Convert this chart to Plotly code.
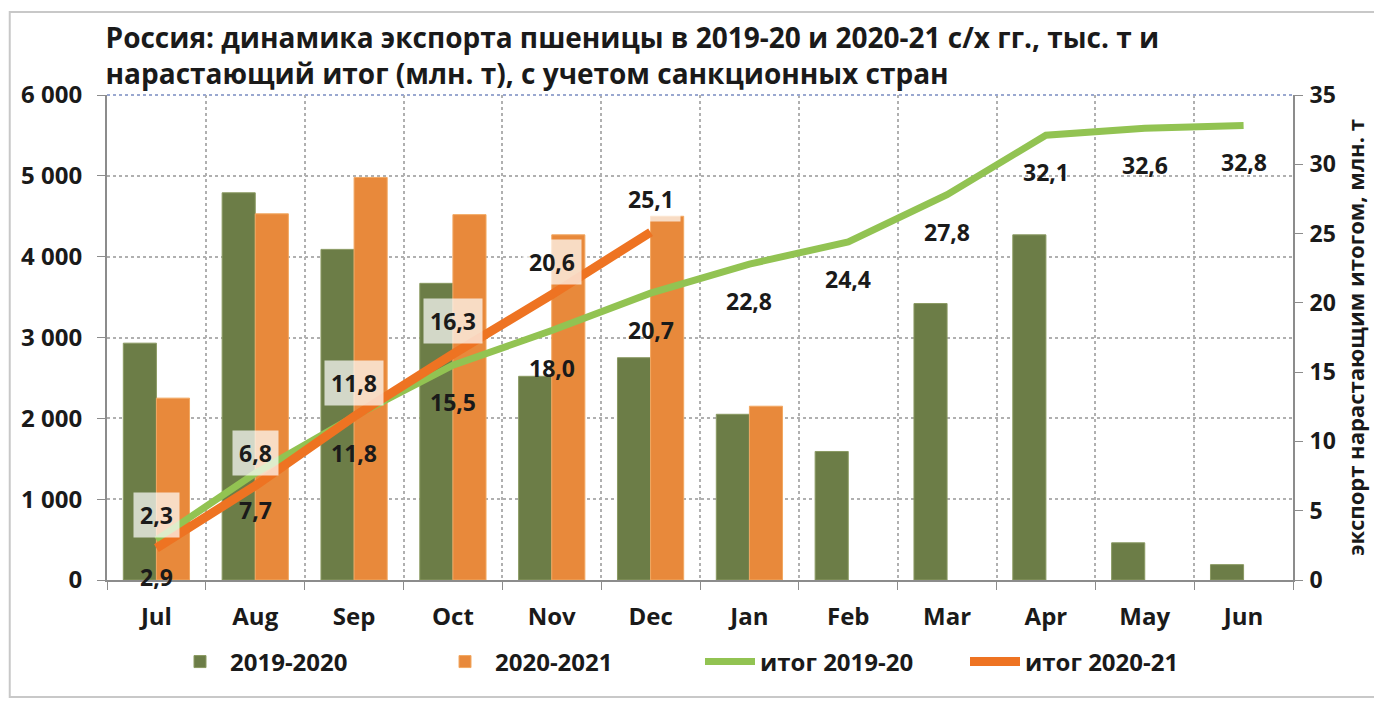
import plotly.graph_objects as go

# Months of the agricultural year
months = ["Jul", "Aug", "Sep", "Oct", "Nov", "Dec", "Jan", "Feb", "Mar", "Apr", "May", "Jun"]

# Monthly exports, thousand t
exp_2019_20 = [2930, 4790, 4090, 3670, 2520, 2750, 2050, 1590, 3420, 4270, 460, 190]
exp_2020_21 = [2250, 4530, 4980, 4520, 4270, 4500, 2150]

# Cumulative totals, million t
cum_2019_20 = [2.9, 7.7, 11.8, 15.5, 18.0, 20.7, 22.8, 24.4, 27.8, 32.1, 32.6, 32.8]
cum_2020_21 = [2.3, 6.8, 11.8, 16.3, 20.6, 25.1]

GREEN_BAR = "#6C7D47"
ORANGE_BAR = "#E8893B"
GREEN_LINE = "#92C352"
ORANGE_LINE = "#EE7322"
FONT = "Open Sans"
AXIS_GREY = "#8c8c8c"

fig = go.Figure()

fig.add_trace(go.Bar(x=months, y=exp_2019_20, name="2019-2020",
                     marker=dict(color=GREEN_BAR, line=dict(color="#8A9A62", width=1))))
fig.add_trace(go.Bar(x=months[:len(exp_2020_21)], y=exp_2020_21, name="2020-2021",
                     marker=dict(color=ORANGE_BAR, line=dict(color="#F2A862", width=1))))
fig.add_trace(go.Scatter(x=months, y=cum_2019_20, name="итог 2019-20", yaxis="y2",
                         mode="lines", line=dict(color=GREEN_LINE, width=7)))
fig.add_trace(go.Scatter(x=months[:len(cum_2020_21)], y=cum_2020_21, name="итог 2020-21", yaxis="y2",
                         mode="lines", line=dict(color=ORANGE_LINE, width=9)))

label_font = dict(family=FONT, size=23, color="#1a1a1a", weight="bold")
annotations = []
for m, v in zip(months, cum_2019_20):
    annotations.append(dict(x=m, y=v, xref="x", yref="y2", yshift=-37, showarrow=False,
                            text=f"{v:.1f}".replace(".", ","), font=label_font))
for m, v in zip(months, cum_2020_21):
    annotations.append(dict(x=m, y=v, xref="x", yref="y2", yshift=33, showarrow=False,
                            text=f"{v:.1f}".replace(".", ","),
                            bgcolor="rgba(255,255,255,0.7)", borderpad=6, font=label_font))

# the page adds an 8px body margin, so the figure is 8px smaller than the window
fig.update_layout(
    width=1374, height=694,
    margin=dict(l=99, r=89, t=87, b=122, autoexpand=False),
    paper_bgcolor="white", plot_bgcolor="white",
    separators=", ",
    barmode="group", bargap=0.33, bargroupgap=0,
    font=dict(family=FONT, size=20, color="#1a1a1a"),
    title=dict(text="Россия: динамика экспорта пшеницы в 2019-20 и 2020-21 с/х гг., тыс. т и<br>"
                    "нарастающий итог (млн. т), с учетом санкционных стран",
               x=0.071, xref="container", xanchor="left", y=0.943, yref="container", yanchor="top",
               font=dict(family=FONT, size=28, color="#1a1a1a", weight="bold")),
    xaxis=dict(type="category", tickson="boundaries", ticks="outside", ticklen=8,
               tickcolor=AXIS_GREY, showline=True, linecolor=AXIS_GREY, linewidth=2,
               showgrid=True, gridcolor="#b0b0b0", griddash="dot", gridwidth=1.5,
               automargin=False, ticklabelstandoff=14,
               tickfont=dict(family=FONT, size=24, weight="bold")),
    yaxis=dict(range=[0, 6000], dtick=1000, tickformat=",d", ticks="outside", ticklen=8,
               tickcolor=AXIS_GREY, showline=True, linecolor=AXIS_GREY, linewidth=2,
               showgrid=True, gridcolor="#b0b0b0", griddash="dot", gridwidth=1.5,
               zeroline=False, automargin=False, ticklabelstandoff=10,
               tickfont=dict(family=FONT, size=24, weight="bold")),
    yaxis2=dict(range=[0, 35], dtick=5, overlaying="y", side="right", ticks="outside",
                ticklen=8, tickcolor=AXIS_GREY, showline=True, linecolor=AXIS_GREY,
                linewidth=2, showgrid=False, zeroline=False, automargin=False,
                ticklabelstandoff=2,
                tickfont=dict(family=FONT, size=23, weight="bold"),
                title=dict(text="экспорт нарастающим итогом, млн. т", standoff=14,
                           font=dict(family=FONT, size=22, weight="bold"))),
    legend=dict(orientation="h", x=0.5, xanchor="center", y=-0.169, yanchor="middle",
                font=dict(family=FONT, size=24, weight="bold"), traceorder="normal",
                entrywidth=200, itemwidth=50),
    annotations=annotations,
    shapes=[
        dict(type="rect", xref="paper", yref="paper", x0=-0.082, x1=1.072, y0=-0.241, y1=1.171,
             line=dict(color="#c8c8c8", width=2), layer="below"),
        dict(type="line", xref="paper", yref="paper", x0=0, x1=1, y0=1, y1=1,
             line=dict(color="#9aa8d0", width=2, dash="dot")),
    ],
)

fig.write_html("out.html")
